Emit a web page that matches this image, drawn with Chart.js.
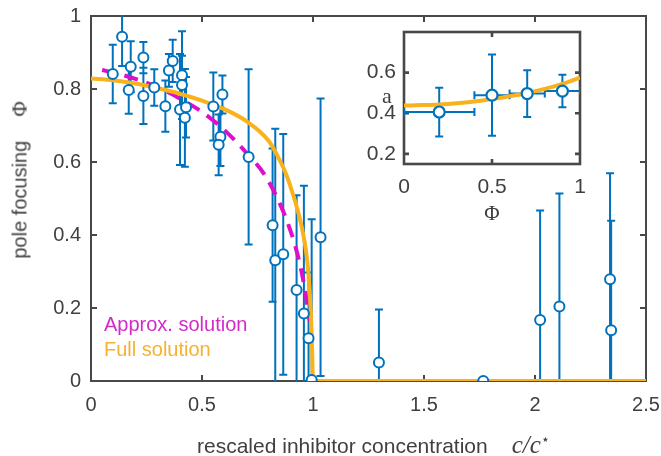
<!DOCTYPE html>
<html>
<head>
<meta charset="utf-8">
<script src="https://cdn.jsdelivr.net/npm/chart.js@4.4.1/dist/chart.umd.min.js"></script>
<style>
body{margin:0;background:#fff;}
#wrap{position:relative;width:661px;height:456px;font-family:"Liberation Sans",Arial,Helvetica,sans-serif;color:#404040;overflow:hidden;}
canvas{position:absolute;}
.lbl{position:absolute;white-space:nowrap;line-height:1;}
.serif{font-family:"Liberation Serif","DejaVu Serif",serif;}
</style>
</head>
<body>
<div id="wrap">
<canvas id="main" width="661" height="456" style="left:0;top:0"></canvas>
<canvas id="inset" width="260" height="200" style="left:340px;top:20px"></canvas>

<div class="lbl" style="left:20px;top:180px;font-size:20px;transform:translate(-50%,-50%) rotate(-90deg);">pole focusing<span class="serif" style="margin-left:24px;font-size:21px;">Φ</span></div>
<div class="lbl" style="left:197px;top:432px;font-size:21px;">rescaled inhibitor concentration<span class="serif" style="margin-left:24px;font-size:25px;font-style:italic;">c/c<sup style="font-size:14px;font-style:normal;">⋆</sup></span></div>

<div class="lbl" style="left:104px;top:314px;font-size:20px;color:#D22BC6;">Approx. solution</div>
<div class="lbl" style="left:104px;top:339px;font-size:20px;color:#F6B22E;">Full solution</div>

<div class="lbl serif" style="left:387px;top:96px;font-size:22px;transform:translate(-50%,-50%);">a</div>
<div class="lbl serif" style="left:492px;top:213px;font-size:21px;transform:translate(-50%,-50%);">Φ</div>
</div>

<script>
// main panel: pole focusing vs rescaled concentration
const phiX   = [0.098,0.140,0.179,0.170,0.236,0.236,0.285,0.335,0.351,0.368,0.410,0.410,0.401,0.428,0.423,0.551,0.592,0.583,0.575,0.710,0.818,0.830,0.866,0.926,0.959,0.980,0.994,1.034,1.297,1.767,2.023,2.110,2.338,2.343];
const phiY   = [0.841,0.943,0.861,0.797,0.886,0.781,0.804,0.753,0.851,0.877,0.838,0.811,0.744,0.750,0.721,0.752,0.785,0.669,0.647,0.614,0.427,0.331,0.347,0.249,0.185,0.117,0.003,0.394,0.051,0.000,0.167,0.204,0.279,0.139];
const phiErr = [0.08,0.08,0.07,0.065,0.043,0.077,0.05,0.07,0.045,0.058,0.12,0.08,0.152,0.083,0.134,0.093,0.052,0.08,0.083,0.24,0.21,0.36,0.33,0.26,0.35,0.18,0.44,0.38,0.145,0,0.30,0.31,0.29,0.30];

const approxX = [0.05,0.1,0.2,0.3,0.4,0.5,0.6,0.7,0.78,0.84,0.88,0.92,0.95,0.97,0.985];
const approxY = [0.852,0.845,0.828,0.805,0.774,0.737,0.688,0.625,0.567,0.5,0.443,0.37,0.295,0.225,0.165];

const fullX = [0,0.1,0.2,0.3,0.4,0.5,0.6,0.7,0.8,0.85,0.88,0.9,0.93,0.95,0.97,0.98,0.99,0.995,1.0,1.05,2.5];
const fullY = [0.829,0.824,0.815,0.802,0.787,0.768,0.745,0.712,0.658,0.605,0.565,0.53,0.47,0.42,0.35,0.29,0.19,0.11,0,0,0];

const xTicks = [0,0.5,1,1.5,2,2.5];
const yTicks = [0,0.2,0.4,0.6,0.8,1];

// inset: a vs phi
const insetPhi    = [0.2,0.5,0.7,0.9];
const insetA      = [0.406,0.489,0.497,0.509];
const insetPhiErr = [0.2,0.1,0.1,0.1];
const insetAErr   = [0.12,0.2,0.115,0.08];
const insetFitX = [0,0.1,0.2,0.3,0.4,0.5,0.6,0.7,0.8,0.9,1];
const insetFitY = [0.438,0.44,0.443,0.449,0.458,0.47,0.484,0.5,0.52,0.545,0.575];
const insetXTicks = [0,0.5,1];
const insetYTicks = [0.2,0.4,0.6];

const BLUE='#0072BD', MAG='#DD0FCB', ORANGE='#F9B21B', AXIS='#484848';
const FAM='"Liberation Sans", Arial, Helvetica, sans-serif';
Chart.defaults.font.family=FAM;

function pts(xs,ys){return xs.map((x,i)=>({x:x,y:ys[i]}));}

// white background + box + inward ticks (drawn under the data)
const frame={id:'frame',
  beforeDraw(chart,args,o){
    if(!o.fill) return;
    const a=chart.chartArea,c=chart.ctx;
    c.save();c.fillStyle='#fff';c.fillRect(a.left,a.top,a.right-a.left,a.bottom-a.top);c.restore();
  },
  beforeDatasetsDraw(chart,args,o){
    const a=chart.chartArea,c=chart.ctx,xs=chart.scales.x,ys=chart.scales.y,L=o.len;
    c.save();
    c.strokeStyle=AXIS;c.lineWidth=o.width;
    c.strokeRect(a.left,a.top,a.right-a.left,a.bottom-a.top);
    c.beginPath();
    o.xTicks.forEach(v=>{const p=xs.getPixelForValue(v);
      c.moveTo(p,a.bottom);c.lineTo(p,a.bottom-L);c.moveTo(p,a.top);c.lineTo(p,a.top+L);});
    o.yTicks.forEach(v=>{const p=ys.getPixelForValue(v);
      c.moveTo(a.left,p);c.lineTo(a.left+L,p);c.moveTo(a.right,p);c.lineTo(a.right-L,p);});
    c.stroke();
    c.restore();
  }
};

// vertical / horizontal error bars with caps
const errorBars={id:'errorBars',
  beforeDatasetsDraw(chart,args,o){
    const a=chart.chartArea,c=chart.ctx,xs=chart.scales.x,ys=chart.scales.y,cap=o.cap;
    c.save();
    c.beginPath();c.rect(a.left,a.top-1,a.right-a.left,a.bottom-a.top+2);c.clip();
    chart.data.datasets.forEach(ds=>{
      if(!ds.yErr) return;
      c.strokeStyle=ds.borderColor;c.lineWidth=o.width;
      c.beginPath();
      ds.data.forEach((p,i)=>{
        const px=xs.getPixelForValue(p.x),py=ys.getPixelForValue(p.y);
        const e=ds.yErr[i];
        if(e){
          const t=ys.getPixelForValue(p.y+e),b=ys.getPixelForValue(p.y-e);
          c.moveTo(px,t);c.lineTo(px,b);
          c.moveTo(px-cap,t);c.lineTo(px+cap,t);
          c.moveTo(px-cap,b);c.lineTo(px+cap,b);
        }
        const ex=ds.xErr?ds.xErr[i]:0;
        if(ex){
          const l=xs.getPixelForValue(p.x-ex),r=xs.getPixelForValue(p.x+ex);
          c.moveTo(l,py);c.lineTo(r,py);
          c.moveTo(l,py-cap);c.lineTo(l,py+cap);
          c.moveTo(r,py-cap);c.lineTo(r,py+cap);
        }
      });
      c.stroke();
    });
    c.restore();
  }
};

function axis(min,max,ticks,size,pad,fit){
  return {type:'linear',min:min,max:max,
    afterBuildTicks:s=>{s.ticks=ticks.map(v=>({value:v}));},
    afterFit:s=>{fit(s);s.paddingLeft=0;s.paddingRight=0;s.paddingTop=0;s.paddingBottom=0;},
    ticks:{font:{size:size},color:'#404040',padding:pad,maxRotation:0,autoSkip:false,
      callback:v=>String(v)},
    grid:{display:false},border:{display:false}};
}

new Chart(document.getElementById('main'),{
  type:'scatter',
  data:{datasets:[
    {data:pts(phiX,phiY),yErr:phiErr,showLine:false,borderColor:BLUE,backgroundColor:'#fff',
     pointRadius:5,pointBorderWidth:2},
    {data:pts(fullX,fullY),showLine:true,borderColor:ORANGE,borderWidth:4,pointRadius:0,
     cubicInterpolationMode:'monotone'},
    {data:pts(approxX,approxY),showLine:true,borderColor:MAG,borderWidth:4,borderDash:[14,9],pointRadius:0,
     cubicInterpolationMode:'monotone'}
  ]},
  options:{responsive:false,animation:false,events:[],
    layout:{padding:{top:16,right:15,left:0,bottom:0}},
    plugins:{legend:{display:false},tooltip:{enabled:false},
      frame:{xTicks:xTicks.slice(1,-1),yTicks:yTicks.slice(1,-1),width:2,len:6},
      errorBars:{cap:4,width:2}},
    scales:{
      x:axis(0,2.5,xTicks,20,4,s=>{s.height=75;}),
      y:axis(0,1,yTicks,20,2,s=>{s.width=91;})
    }},
  plugins:[frame,errorBars]
});

new Chart(document.getElementById('inset'),{
  type:'scatter',
  data:{datasets:[
    {data:pts(insetPhi,insetA),yErr:insetAErr,xErr:insetPhiErr,showLine:false,borderColor:BLUE,backgroundColor:'#fff',
     pointRadius:5.5,pointBorderWidth:2.2},
    {data:pts(insetFitX,insetFitY),showLine:true,borderColor:ORANGE,borderWidth:4,pointRadius:0,
     cubicInterpolationMode:'monotone'}
  ]},
  options:{responsive:false,animation:false,events:[],
    layout:{padding:{top:12,right:20,left:0,bottom:0}},
    plugins:{legend:{display:false},tooltip:{enabled:false},
      frame:{xTicks:[0.5],yTicks:insetYTicks,width:2.6,len:5,fill:true},
      errorBars:{cap:4,width:2}},
    scales:{
      x:axis(0,1,insetXTicks,21,3,s=>{s.height=56;}),
      y:axis(0.15,0.8,insetYTicks,21,0,s=>{s.width=64;})
    }},
  plugins:[frame,errorBars]
});
</script>
</body>
</html>
